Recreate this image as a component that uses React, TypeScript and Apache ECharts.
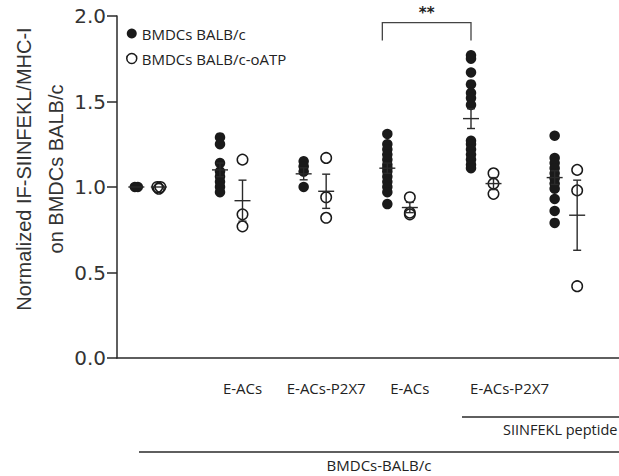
import React, { useEffect, useRef } from "react";
import * as echarts from "echarts";

const categories = ["", "E-ACs", "E-ACs-P2X7", "E-ACs", "E-ACs-P2X7", ""];
const yTicks = [0, 0.5, 1.0, 1.5, 2.0];

const balbValues: number[][] = [
  [1.0, 1.0],
  [1.29, 1.25, 1.14, 1.09, 1.06, 1.03, 1.0, 0.97],
  [1.15, 1.12, 1.09, 1.0],
  [1.31, 1.25, 1.22, 1.19, 1.16, 1.13, 1.11, 1.09, 1.06, 1.03, 1.0, 0.97, 0.9],
  [1.77, 1.75, 1.67, 1.6, 1.55, 1.52, 1.48, 1.27, 1.25, 1.22, 1.19, 1.16, 1.13, 1.11],
  [1.3, 1.17, 1.14, 1.11, 1.08, 1.05, 1.02, 0.99, 0.93, 0.86, 0.79],
];
const balbMean = [1.0, 1.1, 1.077, 1.11, 1.4, 1.055];
const balbSem = [0, 0.04, 0.035, 0.03, 0.058, 0.04];

const oatpValues: number[][] = [
  [1.0, 0.99, 1.0],
  [1.16, 0.84, 0.77],
  [1.17, 0.94, 0.82],
  [0.94, 0.85, 0.84],
  [1.08, 1.02, 0.96],
  [1.1, 0.98, 0.42],
];
const oatpMean = [1.0, 0.92, 0.975, 0.88, 1.02, 0.835];
const oatpSem = [0.003, 0.12, 0.1, 0.03, 0.035, 0.205];

// significance: filled group 3 vs filled group 4
const sigPair = [3, 4];
const sigLevels = [1.961, 1.856, 2.016];
const sigLabel = "**";

const FILLED_DX = -22.5;
const INK = "#1a1a1a";

function scatterData(groups: number[][], baseDx: number) {
  const out: any[] = [];
  groups.forEach((vals, gi) => {
    const counts: Record<string, number> = {};
    vals.forEach((v) => {
      const k = v.toFixed(2);
      counts[k] = (counts[k] || 0) + 1;
    });
    const seen: Record<string, number> = {};
    vals.forEach((v) => {
      const k = v.toFixed(2);
      const n = counts[k];
      const idx = seen[k] || 0;
      seen[k] = idx + 1;
      const spread = n > 1 ? (idx - (n - 1) / 2) * 3 : 0;
      out.push({ value: [gi, v], symbolOffset: [baseDx + spread, 0] });
    });
  });
  return out;
}

function errData(mean: number[], sem: number[]) {
  return mean.map((m, i) => [i, m, sem[i]]);
}

function makeErrRender(dx: number) {
  return (params: any, api: any) => {
    const x = api.value(0);
    const m = api.value(1);
    const s = api.value(2);
    const c = api.coord([x, m]);
    const t = api.coord([x, m + s]);
    const b = api.coord([x, m - s]);
    const cx = c[0] + dx;
    const style = { stroke: "#2a2a2a", lineWidth: 1.4 };
    const children: any[] = [
      { type: "line", shape: { x1: cx - 8, y1: c[1], x2: cx + 8, y2: c[1] }, style },
    ];
    if (s > 0.005) {
      children.push(
        { type: "line", shape: { x1: cx, y1: t[1], x2: cx, y2: b[1] }, style },
        { type: "line", shape: { x1: cx - 4, y1: t[1], x2: cx + 4, y2: t[1] }, style },
        { type: "line", shape: { x1: cx - 4, y1: b[1], x2: cx + 4, y2: b[1] }, style }
      );
    }
    return { type: "group", children };
  };
}

export default function App() {
  const ref = useRef<HTMLDivElement>(null);
  useEffect(() => {
    if (!ref.current) return;
    const chart = echarts.init(ref.current, undefined, { renderer: "svg" });
    const textFont = "'Open Sans', sans-serif";
    chart.setOption({
      animation: false,
      backgroundColor: "#ffffff",
      grid: { left: 117, top: 16, width: 515, height: 342, containLabel: false },
      legend: {
        orient: "vertical",
        left: 121,
        top: 21,
        itemWidth: 10,
        itemHeight: 10,
        itemGap: 10,
        textStyle: { fontFamily: textFont, fontSize: 15, color: "#222" },
        data: [
          { name: "BMDCs BALB/c", icon: "circle", itemStyle: { color: INK, borderWidth: 0 } },
          {
            name: "BMDCs BALB/c-oATP",
            icon: "circle",
            itemStyle: { color: "rgba(255,255,255,0)", borderColor: INK, borderWidth: 1.5 },
          },
        ],
      },
      xAxis: {
        type: "category",
        data: categories.map((c, i) =>
          i === 4 ? { value: c, textStyle: { padding: [0, 0, 0, 32] } } : c
        ),
        boundaryGap: true,
        axisLine: { lineStyle: { color: "#2a2a2a", width: 1.5 } },
        axisTick: { alignWithLabel: true, length: 12, lineStyle: { color: "#2a2a2a", width: 1.5 } },
        axisLabel: {
          interval: 0,
          margin: 22,
          fontFamily: textFont,
          fontSize: 15,
          color: "#222",
        },
        splitLine: { show: false },
      },
      yAxis: {
        type: "value",
        min: yTicks[0],
        max: yTicks[yTicks.length - 1],
        interval: 0.5,
        axisLine: { show: true, lineStyle: { color: "#2a2a2a", width: 1.5 } },
        axisTick: { show: true, length: 10, lineStyle: { color: "#2a2a2a", width: 1.5 } },
        axisLabel: {
          margin: 11,
          fontFamily: "'DejaVu Sans', sans-serif",
          fontSize: 20,
          color: "#333",
          formatter: (v: number) => v.toFixed(1),
        },
        splitLine: { show: false },
      },
      series: [
        {
          name: "BMDCs BALB/c",
          type: "scatter",
          symbol: "circle",
          symbolSize: 10.5,
          itemStyle: { color: INK, opacity: 1 },
          data: scatterData(balbValues, FILLED_DX),
          z: 3,
        },
        {
          name: "BMDCs BALB/c-oATP",
          type: "scatter",
          symbol: "circle",
          symbolSize: 10.5,
          itemStyle: { color: "rgba(255,255,255,0)", borderColor: INK, borderWidth: 1.5, opacity: 1 },
          data: scatterData(oatpValues, 0),
          z: 3,
        },
        {
          name: "balbErr",
          type: "custom",
          renderItem: makeErrRender(FILLED_DX),
          data: errData(balbMean, balbSem),
          encode: { x: 0, y: 1 },
          z: 4,
          silent: true,
        },
        {
          name: "oatpErr",
          type: "custom",
          renderItem: makeErrRender(0),
          data: errData(oatpMean, oatpSem),
          encode: { x: 0, y: 1 },
          z: 4,
          silent: true,
        },
        {
          name: "sig",
          type: "custom",
          clip: false,
          silent: true,
          data: [[sigPair[0], sigPair[1], sigLevels[0], sigLevels[1], sigLevels[2]]],
          encode: { x: [0, 1], y: [2, 3] },
          renderItem: (params: any, api: any) => {
            const a = api.coord([api.value(0), api.value(2)]);
            const b = api.coord([api.value(1), api.value(2)]);
            const leg = api.coord([api.value(0), api.value(3)]);
            const lab = api.coord([api.value(0), api.value(4)]);
            const xa = a[0] + FILLED_DX - 5;
            const xb = b[0] + FILLED_DX;
            return {
              type: "group",
              children: [
                {
                  type: "polyline",
                  shape: { points: [[xa, leg[1]], [xa, a[1]], [xb, b[1]], [xb, leg[1]]] },
                  style: { stroke: "#444", lineWidth: 1.3, fill: null },
                },
                {
                  type: "text",
                  x: (xa + xb) / 2,
                  y: lab[1],
                  style: {
                    text: sigLabel,
                    align: "center",
                    verticalAlign: "middle",
                    fontFamily: "'DejaVu Sans', sans-serif",
                    fontWeight: "bold",
                    fontSize: 15,
                    fill: "#222",
                  },
                },
              ],
            };
          },
        },
      ],
      graphic: [
        {
          type: "text",
          x: 24,
          y: 169,
          rotation: Math.PI / 2,
          style: {
            text: "Normalized IF-SIINFEKL/MHC-I",
            align: "center",
            verticalAlign: "middle",
            fontFamily: "'Liberation Sans', Arial, sans-serif",
            fontSize: 20,
            fill: "#333",
          },
        },
        {
          type: "text",
          x: 56,
          y: 169,
          rotation: Math.PI / 2,
          style: {
            text: "on BMDCs BALB/c",
            align: "center",
            verticalAlign: "middle",
            fontFamily: "'Liberation Sans', Arial, sans-serif",
            fontSize: 20,
            fill: "#333",
          },
        },
        {
          type: "line",
          shape: { x1: 462, y1: 417, x2: 625, y2: 417 },
          style: { stroke: "#2a2a2a", lineWidth: 1.5 },
        },
        {
          type: "text",
          x: 503,
          y: 429,
          style: {
            text: "SIINFEKL peptide",
            align: "left",
            verticalAlign: "middle",
            fontFamily: textFont,
            fontSize: 14.5,
            fill: "#222",
          },
        },
        {
          type: "line",
          shape: { x1: 139, y1: 452, x2: 625, y2: 452 },
          style: { stroke: "#2a2a2a", lineWidth: 1.5 },
        },
        {
          type: "text",
          x: 379,
          y: 465,
          style: {
            text: "BMDCs-BALB/c",
            align: "center",
            verticalAlign: "middle",
            fontFamily: textFont,
            fontSize: 15,
            fill: "#222",
          },
        },
      ],
    });
    return () => chart.dispose();
  }, []);
  return (
    <div
      ref={ref}
      style={{ position: "fixed", left: 0, top: 0, width: 619, height: 476, background: "#fff" }}
    />
  );
}
